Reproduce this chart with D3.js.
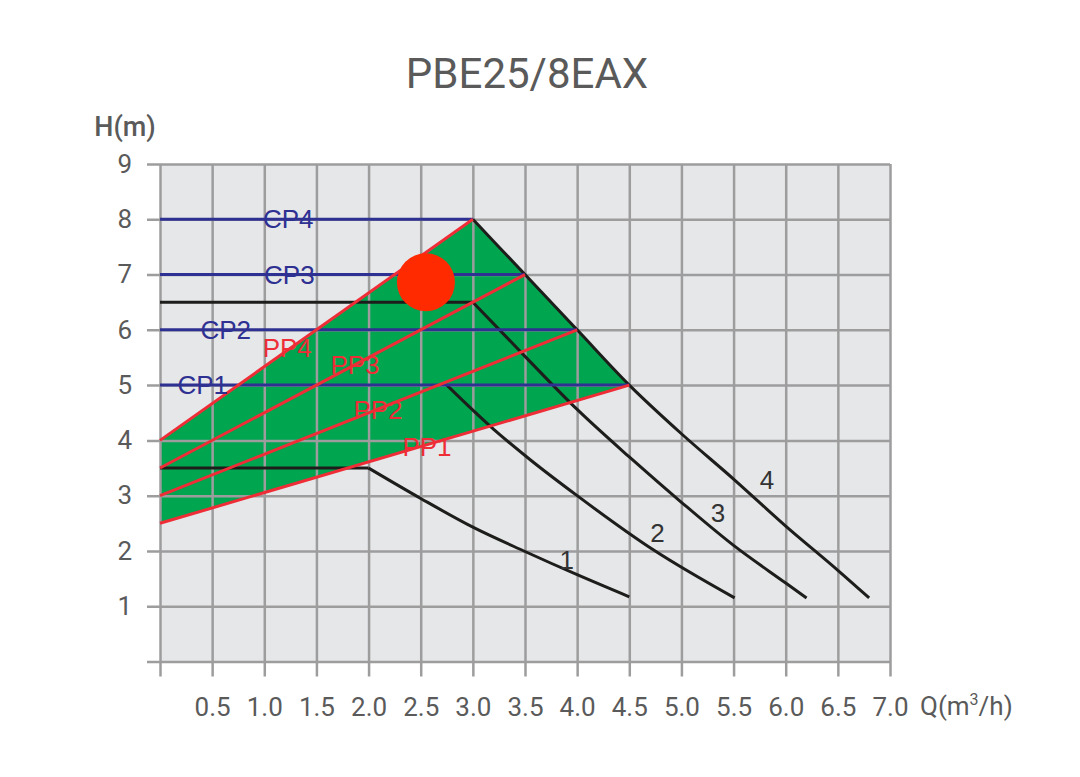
<!DOCTYPE html>
<html lang="en">
<head>
<meta charset="utf-8">
<title>PBE25/8EAX</title>
<script src="https://d3js.org/d3.v7.min.js"></script>
<style>
	body {margin:0; background:#fff;}
	svg text {font-family: Roboto, "Noto Sans", sans-serif;}
	.lbl {font-family: "Liberation Sans", Arial, sans-serif !important;}
</style>
</head>
<body>
<div id="chart"></div>
<script>
	// values
	const xTicks = [0, 0.5, 1.0, 1.5, 2.0, 2.5, 3.0, 3.5, 4.0, 4.5, 5.0, 5.5, 6.0, 6.5, 7.0];
	const yTicks = [0, 1, 2, 3, 4, 5, 6, 7, 8, 9];

	// working area (green)
	const areaFlow = [0, 3.0, 4.5, 0];
	const areaHead = [4, 8, 5, 2.5];

	// constant pressure lines
	const cpNames = ["CP1", "CP2", "CP3", "CP4"];
	const cpHead = [5, 6, 7, 8];
	const cpFlowEnd = [4.5, 4.0, 3.5, 3.0];

	// proportional pressure lines
	const ppNames = ["PP1", "PP2", "PP3", "PP4"];
	const ppHeadStart = [2.5, 3.0, 3.5, 4.0];
	const ppFlowEnd = [4.5, 4.0, 3.5, 3.0];
	const ppHeadEnd = [5, 6, 7, 8];

	// speed curves 1..4
	const curveNames = ["1", "2", "3", "4"];
	const curveFlow = [
		[0, 2.0, 2.5, 3.0, 3.5, 4.0, 4.5],
		[2.75, 3.2, 3.55, 4.0, 4.73, 5.51],
		[0, 3.0, 3.5, 4.0, 4.5, 5.0, 5.5, 6.0, 6.2],
		[3.0, 3.5, 4.0, 4.5, 5.0, 5.5, 6.0, 6.5, 6.8]
	];
	const curveHead = [
		[3.5, 3.5, 2.95, 2.43, 1.99, 1.57, 1.17],
		[5.0, 4.2, 3.65, 3.0, 2.02, 1.15],
		[6.5, 6.5, 5.52, 4.56, 3.7, 2.88, 2.1, 1.42, 1.15],
		[8, 7, 6, 5, 4.12, 3.3, 2.45, 1.65, 1.15]
	];

	// duty point marker
	const dutyFlow = [2.55];
	const dutyHead = [6.86];

	// label anchors (layout only)
	const cpLabelAt = [[0.41, 5], [0.63, 6], [1.24, 7], [1.23, 8]];
	const ppLabelAt = [[2.56, 3.88], [2.09, 4.55], [1.87, 5.36], [1.22, 5.67]];
	const curveLabelAt = [[3.9, 1.84], [4.77, 2.33], [5.35, 2.68], [5.82, 3.28]];

	const width = 1080, height = 777;
	const gridColor = "#9d9d9e";
	const textColor = "#5a5a5a";

	const svg = d3.select("#chart").append("svg")
		.attr("width", width)
		.attr("height", height);

	const x = d3.scaleLinear().domain([0, 7]).range([160, 890]);
	const y = d3.scaleLinear().domain([0, 9]).range([661.5, 164]);

	// plot background
	svg.append("rect")
		.attr("x", x(0)).attr("y", y(9))
		.attr("width", x(7) - x(0)).attr("height", y(0) - y(9))
		.attr("fill", "#e6e7e9");

	// green area
	svg.append("polygon")
		.attr("points", areaFlow.map((q, i) => x(q) + "," + y(areaHead[i])).join(" "))
		.attr("fill", "#00a550");

	// axes / grid
	const xAxis = d3.axisBottom(x)
		.tickValues(xTicks)
		.tickSize(-(y(0) - y(9) + 15))
		.tickPadding(21)
		.tickFormat(d => d === 0 ? "" : d.toFixed(1));
	svg.append("g")
		.attr("transform", "translate(0," + (y(0) + 15) + ")")
		.call(xAxis)
		.call(g => g.select(".domain").remove())
		.call(g => g.selectAll("line").attr("stroke", gridColor).attr("stroke-width", 2.5))
		.call(g => g.selectAll("text").attr("fill", textColor).attr("font-size", 26)
			.style("font-family", "Roboto, sans-serif"));

	const yAxis = d3.axisLeft(y)
		.tickValues(yTicks)
		.tickSize(-(x(7) - x(0) + 13))
		.tickPadding(15)
		.tickFormat(d => d === 0 ? "" : d);
	svg.append("g")
		.attr("transform", "translate(" + (x(0) - 13) + ",0)")
		.call(yAxis)
		.call(g => g.select(".domain").remove())
		.call(g => g.selectAll("line").attr("stroke", gridColor).attr("stroke-width", 2.5))
		.call(g => g.selectAll("text").attr("fill", textColor).attr("font-size", 26)
			.style("font-family", "Roboto, sans-serif"));

	// speed curves: flat part straight, falling part smoothed
	const smooth = d3.line().x(d => x(d[0])).y(d => y(d[1])).curve(d3.curveMonotoneX);
	const straight = d3.line().x(d => x(d[0])).y(d => y(d[1]));
	curveFlow.forEach(function (qs, c) {
		let pts = qs.map((q, i) => [q, curveHead[c][i]]);
		let k = 0;
		while (k + 1 < pts.length && pts[k + 1][1] === pts[0][1]) k++;
		if (k > 0) {
			svg.append("path").attr("d", straight(pts.slice(0, k + 1)))
				.attr("fill", "none").attr("stroke", "#1d1d1b").attr("stroke-width", 3);
		}
		svg.append("path").attr("d", smooth(pts.slice(k)))
			.attr("fill", "none").attr("stroke", "#1d1d1b").attr("stroke-width", 3);
	});

	// CP lines
	svg.selectAll(".cp").data(cpHead).enter().append("line")
		.attr("x1", x(0)).attr("x2", (d, i) => x(cpFlowEnd[i]))
		.attr("y1", d => y(d)).attr("y2", d => y(d))
		.attr("stroke", "#2e3192").attr("stroke-width", 3);

	// PP lines
	svg.selectAll(".pp").data(ppHeadStart).enter().append("line")
		.attr("x1", x(0)).attr("y1", d => y(d))
		.attr("x2", (d, i) => x(ppFlowEnd[i])).attr("y2", (d, i) => y(ppHeadEnd[i]))
		.attr("stroke", "#ef2d37").attr("stroke-width", 3);

	// duty point
	svg.selectAll(".duty").data(dutyFlow).enter().append("circle")
		.attr("cx", d => x(d)).attr("cy", (d, i) => y(dutyHead[i]))
		.attr("r", 29).attr("fill", "#ff2a00");

	// labels
	svg.selectAll(".cpl").data(cpNames).enter().append("text")
		.attr("class", "lbl")
		.attr("x", (d, i) => x(cpLabelAt[i][0])).attr("y", (d, i) => y(cpLabelAt[i][1]) + 9)
		.attr("text-anchor", "middle").attr("font-size", 26).attr("fill", "#2e3192")
		.text(d => d);
	svg.selectAll(".ppl").data(ppNames).enter().append("text")
		.attr("class", "lbl")
		.attr("x", (d, i) => x(ppLabelAt[i][0])).attr("y", (d, i) => y(ppLabelAt[i][1]) + 9)
		.attr("text-anchor", "middle").attr("font-size", 26).attr("fill", "#ef2d37")
		.text(d => d);
	svg.selectAll(".cvl").data(curveNames).enter().append("text")
		.attr("class", "lbl")
		.attr("x", (d, i) => x(curveLabelAt[i][0])).attr("y", (d, i) => y(curveLabelAt[i][1]) + 9)
		.attr("text-anchor", "middle").attr("font-size", 26).attr("fill", "#333")
		.text(d => d);

	// titles
	svg.append("text")
		.attr("x", 527).attr("y", 88)
		.attr("text-anchor", "middle").attr("font-size", 42).attr("fill", textColor)
		.text("PBE25/8EAX");
	svg.append("text")
		.attr("x", 125).attr("y", 136)
		.attr("text-anchor", "middle").attr("font-size", 27).attr("font-weight", 500)
		.attr("fill", textColor)
		.text("H(m)");
	const q = svg.append("text")
		.attr("x", 920).attr("y", 715)
		.attr("font-size", 26).attr("fill", textColor);
	q.append("tspan").text("Q(m");
	q.append("tspan").attr("font-size", 16).attr("dy", -10).text("3");
	q.append("tspan").attr("dy", 10).text("/h)");
</script>
</body>
</html>
